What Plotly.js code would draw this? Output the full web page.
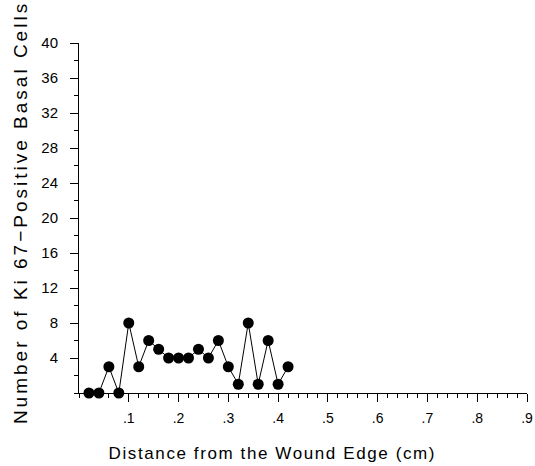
<!DOCTYPE html>
<html>
<head>
<meta charset="utf-8">
<script src="https://cdn.plot.ly/plotly-3.0.1.min.js"></script>
<style>
html,body{margin:0;padding:0;background:#fff;}
#chart{width:535px;height:466px;}
.annotation-text.xt{letter-spacing:1.6px;}
.annotation-text.yt{letter-spacing:3px;}
</style>
</head>
<body>
<div id="chart"></div>
<script>
// Distance from the wound edge (cm)
const distance = [0.02,0.04,0.06,0.08,0.10,0.12,0.14,0.16,0.18,0.20,0.22,0.24,0.26,0.28,0.30,0.32,0.34,0.36,0.38,0.40,0.42];
// Number of Ki 67-positive basal cells
const cellCount = [0,0,3,0,8,3,6,5,4,4,4,5,4,6,3,1,8,1,6,1,3];
const xTickVals = [0.1,0.2,0.3,0.4,0.5,0.6,0.7,0.8,0.9];
const xTickText = ['.1','.2','.3','.4','.5','.6','.7','.8','.9'];
const yTickVals = [4,8,12,16,20,24,28,32,36,40];
const xTitle = 'Distance from the Wound Edge (cm)';
const yTitle = 'Number of Ki 67\u2212Positive Basal Cells';

const font = 'Liberation Sans, Arial, sans-serif';

const trace = {
  x: distance, y: cellCount, type: 'scatter', mode: 'lines+markers',
  line: {color: '#000', width: 1},
  marker: {color: '#000', size: 11},
  cliponaxis: false, showlegend: false, hoverinfo: 'none'
};

const layout = {
  width: 535, height: 466,
  margin: {l: 79, r: 8, t: 43, b: 73},
  paper_bgcolor: '#fff', plot_bgcolor: '#fff',
  font: {family: font, color: '#000', size: 15},
  xaxis: {
    range: [0, 0.9], showgrid: false, zeroline: false,
    showline: true, linecolor: '#000', linewidth: 1,
    ticks: 'outside', ticklen: 8, tickwidth: 1, tickcolor: '#000',
    tickvals: xTickVals, ticktext: xTickText,
    tickfont: {size: 14, family: font}, ticklabelstandoff: 4,
    minor: {dtick: 0.02, tick0: 0, ticks: 'outside', ticklen: 4, tickcolor: '#000', tickwidth: 1, showgrid: false},
    fixedrange: true
  },
  yaxis: {
    range: [0, 40], showgrid: false, zeroline: false,
    showline: true, linecolor: '#000', linewidth: 1,
    ticks: 'outside', ticklen: 8, tickwidth: 1, tickcolor: '#000',
    tickvals: yTickVals,
    tickfont: {size: 15, family: font}, ticklabelstandoff: 9,
    minor: {dtick: 2, tick0: 0, ticks: 'outside', ticklen: 4, tickcolor: '#000', tickwidth: 1, showgrid: false},
    fixedrange: true
  },
  annotations: [
    {text: xTitle, xref: 'paper', yref: 'paper', x: 0.432, y: 0, yshift: -60,
     xanchor: 'center', yanchor: 'middle', showarrow: false,
     font: {family: font, size: 17, color: '#000'}},
    {text: yTitle, xref: 'paper', yref: 'paper', x: 0, xshift: -59, y: 0.514,
     xanchor: 'center', yanchor: 'middle', textangle: -90, showarrow: false,
     font: {family: font, size: 19, color: '#000'}}
  ]
};

Plotly.newPlot('chart', [trace], layout, {displayModeBar: false, staticPlot: true}).then(function(gd){
  const txt = gd.querySelectorAll('.annotation-text');
  if (txt[0]) txt[0].classList.add('xt');
  if (txt[1]) txt[1].classList.add('yt');
});
</script>
</body>
</html>
